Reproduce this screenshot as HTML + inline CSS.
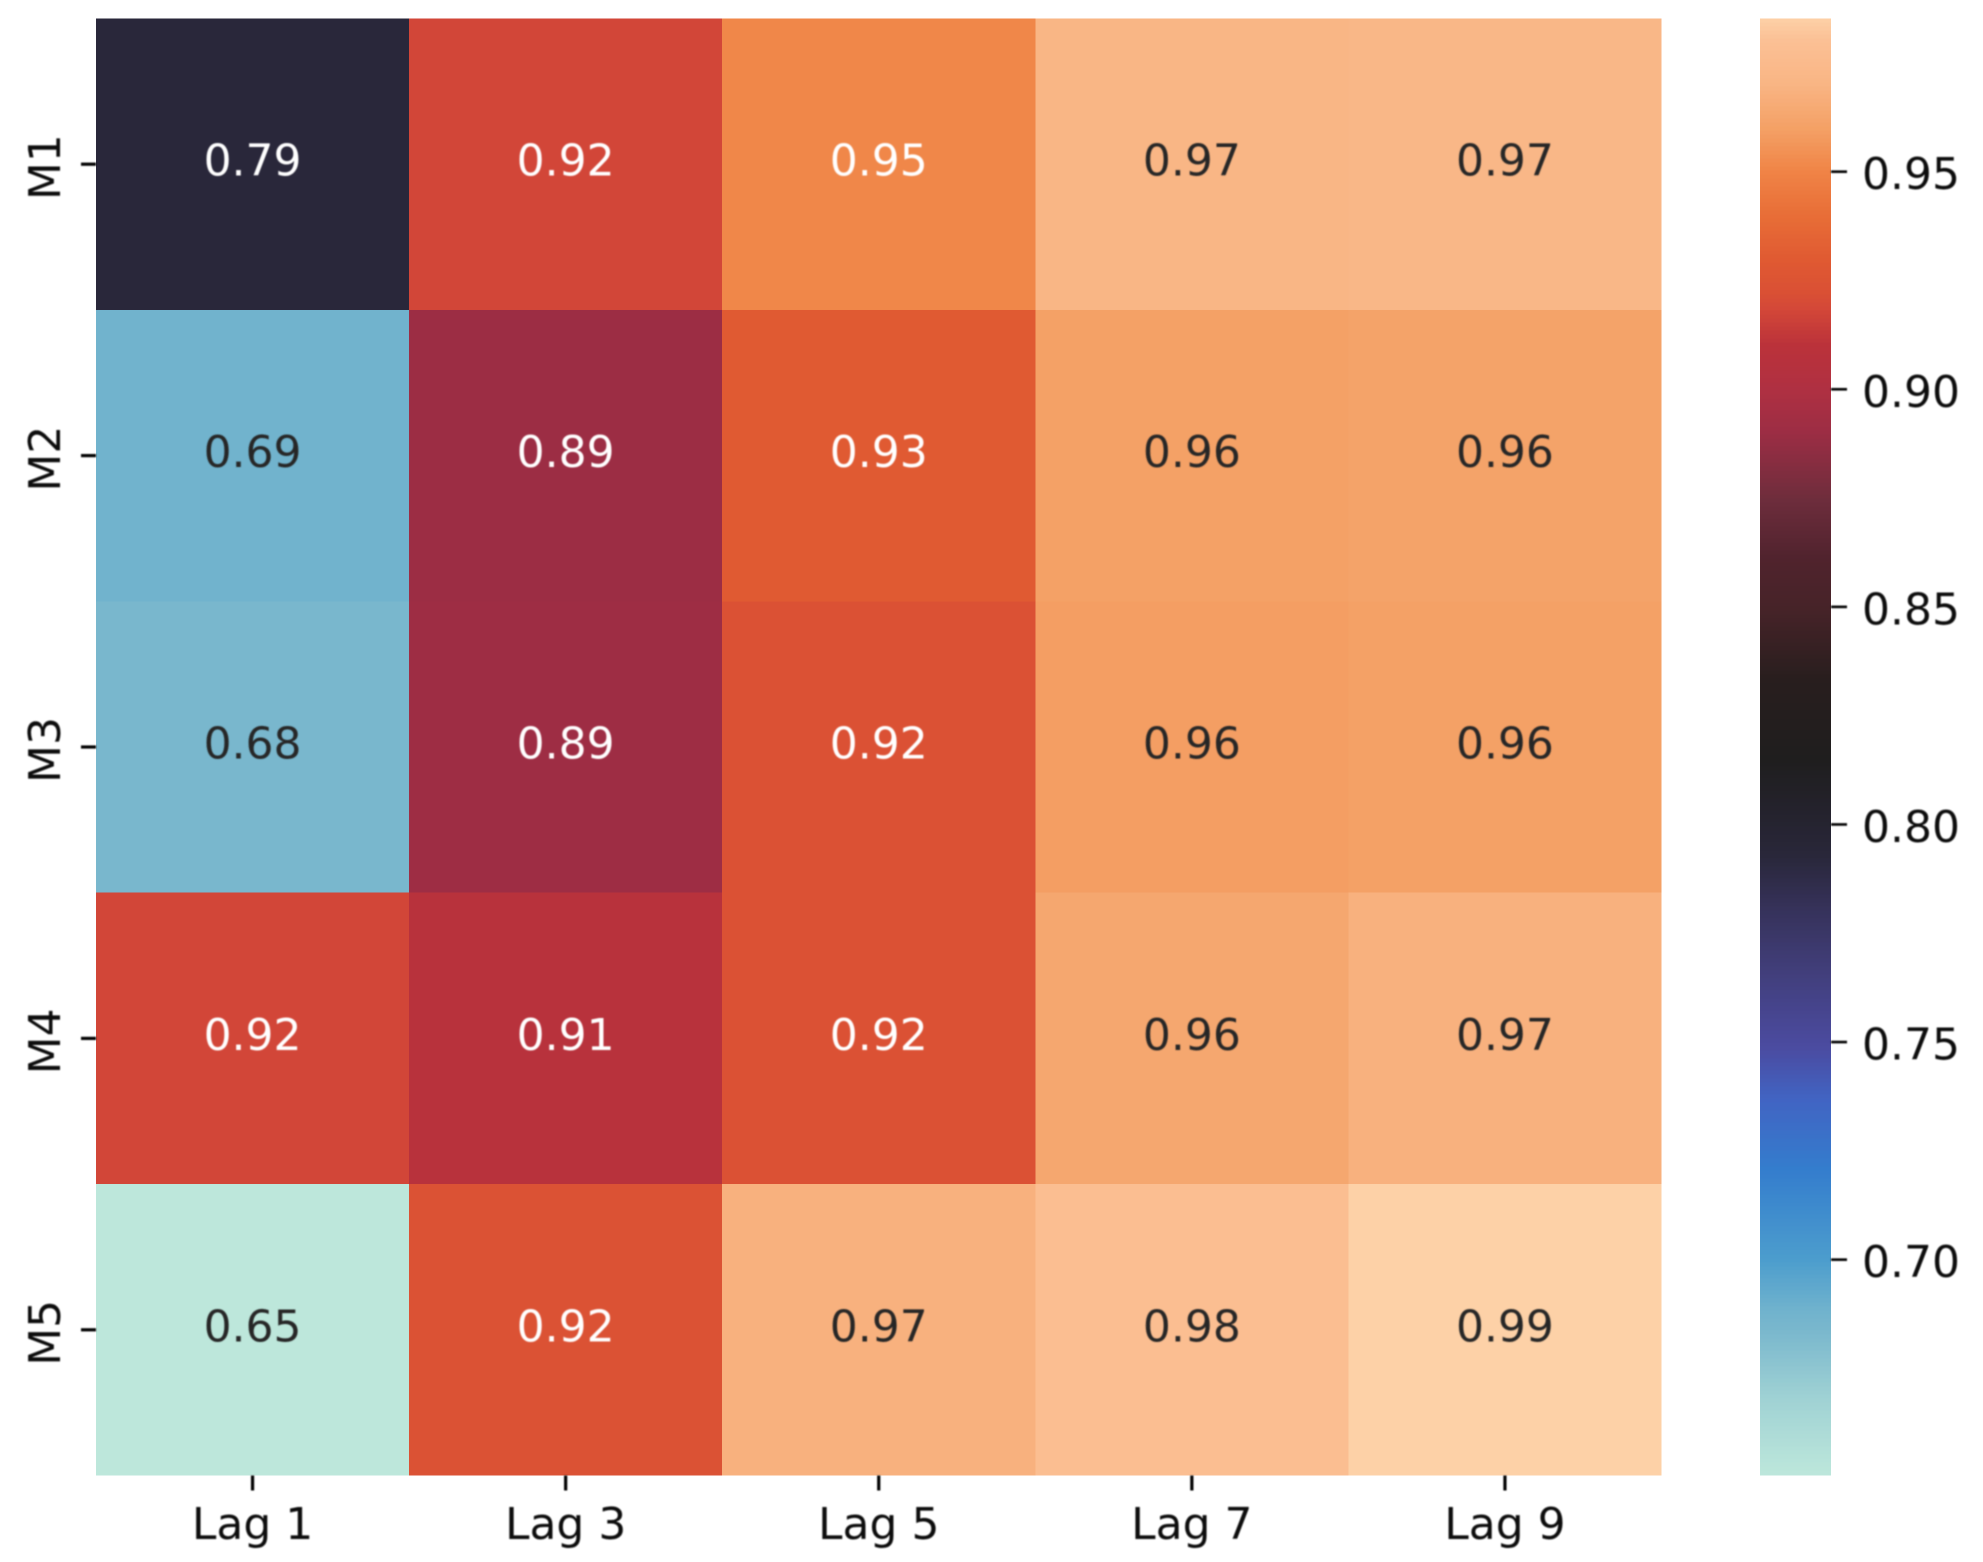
<!DOCTYPE html>
<html lang="en">
<head>
<meta charset="utf-8">
<title>Lag heatmap</title>
<style>
html,body{margin:0;padding:0;background:#fff;width:1983px;height:1562px;overflow:hidden}
svg{display:block}
text{font-family:"DejaVu Sans","Liberation Sans",sans-serif;font-size:44px}
</style>
</head>
<body>
<svg id="chart" xmlns="http://www.w3.org/2000/svg" width="1983" height="1562" viewBox="0 0 1983 1562">
<defs><filter id="soft" x="-10%" y="-10%" width="120%" height="120%"><feGaussianBlur stdDeviation="0.8"/></filter></defs>
<g id="cells"></g>
<g id="colorbar"></g>
<g id="annotations" filter="url(#soft)"></g>
<g id="axes" filter="url(#soft)"></g>
</svg>
<script>
const columnLabels = ['Lag 1', 'Lag 3', 'Lag 5', 'Lag 7', 'Lag 9'];
const rowLabels = ['M1', 'M2', 'M3', 'M4', 'M5'];
const row1Values = [0.793, 0.918, 0.951, 0.971, 0.972];
const row2Values = [0.688, 0.890, 0.930, 0.960, 0.961];
const row3Values = [0.684, 0.891, 0.923, 0.959, 0.960];
const row4Values = [0.918, 0.908, 0.923, 0.963, 0.968];
const row5Values = [0.6504, 0.924, 0.968, 0.978, 0.9852];
const colorbarTicks = [0.70, 0.75, 0.80, 0.85, 0.90, 0.95];
const colormapStops = [
  [0, 189, 231, 219], [0.052, 160, 210, 212], [0.100, 121, 183, 205], [0.1125, 113, 179, 205], [0.148, 76, 157, 205],
  [0.210, 52, 125, 205], [0.258, 65, 100, 195], [0.294, 75, 75, 160], [0.347, 65, 62, 122],
  [0.395, 52, 48, 85], [0.425, 41, 39, 58], [0.443, 38, 36, 50], [0.491, 31, 30, 30], [0.546, 40, 30, 30],
  [0.594, 70, 35, 40], [0.629, 80, 35, 45], [0.670, 110, 45, 60], [0.716, 156, 45, 68],
  [0.745, 175, 48, 66], [0.776, 187, 50, 58], [0.800, 211, 71, 56], [0.812, 218, 80, 52],
  [0.835, 224, 90, 50], [0.865, 232, 110, 55], [0.895, 240, 132, 70], [0.925, 244, 161, 102],
  [0.955, 249, 181, 132], [0.985, 251, 192, 149], [1, 253, 209, 167]
];

const matrix = [row1Values, row2Values, row3Values, row4Values, row5Values];
const plotLeft = 96, plotRight = 1661.5, plotTop = 18.5, plotBottom = 1475.5;
const barLeft = 1760, barRight = 1831;
const NS = 'http://www.w3.org/2000/svg';
const flat = matrix.flat();
const vMin = Math.min(...flat), vMax = Math.max(...flat);

function xBand(i) { return plotLeft + i * (plotRight - plotLeft) / columnLabels.length; }
function yBand(i) { return plotTop + i * (plotBottom - plotTop) / rowLabels.length; }
function yValue(v) { return plotBottom - (v - vMin) / (vMax - vMin) * (plotBottom - plotTop); }
function colorAt(t) {
  t = Math.max(0, Math.min(1, t));
  for (let i = 1; i < colormapStops.length; i++) {
    const a = colormapStops[i - 1], b = colormapStops[i];
    if (t <= b[0]) {
      const f = (t - a[0]) / (b[0] - a[0]);
      return [1, 2, 3].map(k => Math.round(a[k] + (b[k] - a[k]) * f));
    }
  }
  return colormapStops[colormapStops.length - 1].slice(1);
}
function colorFor(v) { return colorAt((v - vMin) / (vMax - vMin)); }
function luminance(c) {
  const l = c.map(x => { x /= 255; return x <= 0.03928 ? x / 12.92 : Math.pow((x + 0.055) / 1.055, 2.4); });
  return 0.2126 * l[0] + 0.7152 * l[1] + 0.0722 * l[2];
}
function make(tag, attrs, parent, txt) {
  const e = document.createElementNS(NS, tag);
  for (const k in attrs) e.setAttribute(k, attrs[k]);
  if (txt !== undefined) e.textContent = txt;
  parent.appendChild(e);
  return e;
}

const cellsG = document.getElementById('cells');
const annG = document.getElementById('annotations');
const axesG = document.getElementById('axes');
const barG = document.getElementById('colorbar');

matrix.forEach((row, r) => {
  row.forEach((v, c) => {
    const col = colorFor(v);
    const rect = make('rect', {
      x: xBand(c), y: yBand(r),
      width: xBand(c + 1) - xBand(c), height: yBand(r + 1) - yBand(r),
      fill: 'rgb(' + col.join(',') + ')', 'shape-rendering': 'crispEdges'
    }, cellsG);
    
    
    const label = make('text', {
      x: (xBand(c) + xBand(c + 1)) / 2, y: (yBand(r) + yBand(r + 1)) / 2 + 11.5,
      'text-anchor': 'middle', fill: luminance(col) > 0.385 ? '#262626' : '#ffffff'
    }, annG, v.toFixed(2));
    
    
  });
});

columnLabels.forEach((name, c) => {
  const cx = (xBand(c) + xBand(c + 1)) / 2;
  const tick = make('line', { x1: cx, x2: cx, y1: plotBottom, y2: plotBottom + 15, stroke: '#000', 'stroke-width': 3.2 }, axesG);
  
  
  const label = make('text', { x: cx, y: 1539, 'text-anchor': 'middle', fill: '#111' }, axesG, name);
  
  
});

rowLabels.forEach((name, r) => {
  const cy = (yBand(r) + yBand(r + 1)) / 2;
  const tick = make('line', { x1: plotLeft - 15, x2: plotLeft, y1: cy, y2: cy, stroke: '#000', 'stroke-width': 3.2 }, axesG);
  
  
  const label = make('text', { transform: 'translate(60,' + (cy + 3) + ') rotate(-90)', 'text-anchor': 'middle', fill: '#111' }, axesG, name);
  
  
});

for (let y = plotTop; y < plotBottom; y += 4) {
  const t = (plotBottom - y - 2) / (plotBottom - plotTop);
  const seg = make('rect', {
    x: barLeft, y: y, width: barRight - barLeft, height: Math.min(4, plotBottom - y),
    fill: 'rgb(' + colorAt(t).join(',') + ')', 'shape-rendering': 'crispEdges'
  }, barG);
  
  
}

colorbarTicks.forEach(v => {
  const y = yValue(v);
  const tick = make('line', { x1: barRight, x2: barRight + 16, y1: y, y2: y, stroke: '#000', 'stroke-width': 2.6 }, axesG);
  
  
  const label = make('text', { x: 1862, y: y + 17.5, fill: '#111' }, axesG, v.toFixed(2));
  
  
});
</script>
</body>
</html>
